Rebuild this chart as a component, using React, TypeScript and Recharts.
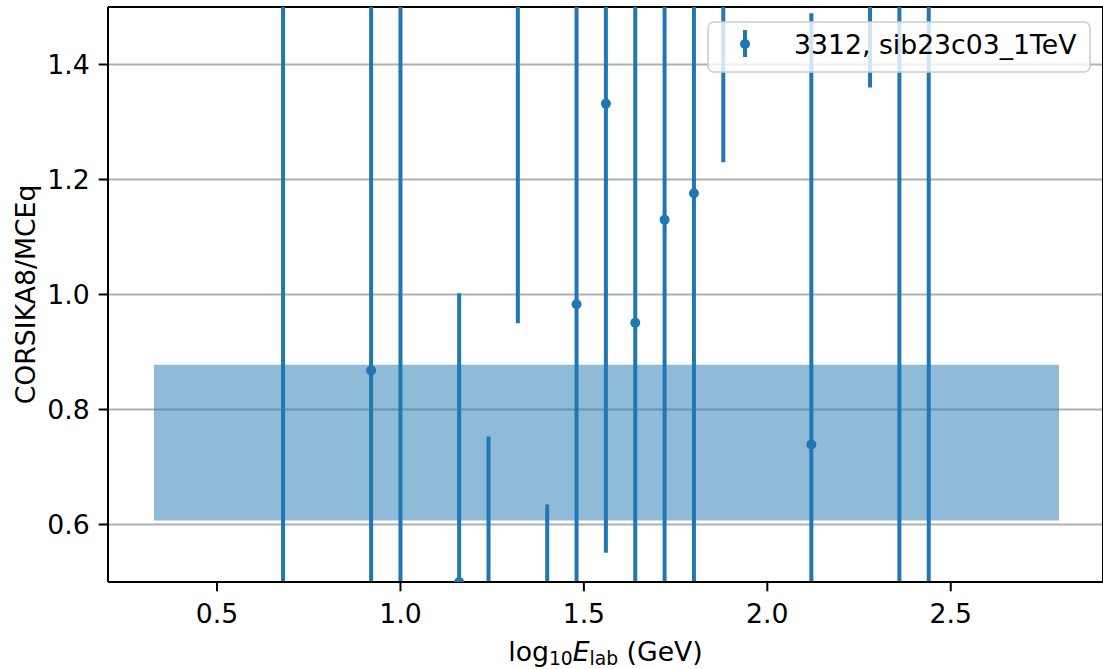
import React from 'react'
import {
  ComposedChart,
  Scatter,
  ErrorBar,
  XAxis,
  YAxis,
  CartesianGrid,
  ReferenceArea,
  ReferenceLine,
} from 'recharts'

// bin centres, log10(E_lab / GeV)
const LOG_E = [0.68, 0.92, 1.0, 1.16, 1.24, 1.32, 1.4, 1.48, 1.56, 1.64, 1.72, 1.8, 1.88, 2.12, 2.28, 2.36, 2.44]
// CORSIKA8 / MCEq ratio (several sit outside the visible range)
const RATIO = [0.3, 0.868, 1.7, 0.5, 0.35, 1.8, 0.4, 0.983, 1.332, 0.951, 1.13, 1.176, 1.75, 0.739, 1.7, 1.8, 0.2]
const ERR_LOW = [0.5, 0.7, 1.5, 0.5, 0.4, 0.85, 0.235, 0.65, 0.781, 0.6, 0.7, 0.75, 0.52, 0.75, 0.34, 1.5, 1.5]
const ERR_HIGH = [1.5, 0.7, 1.5, 0.502, 0.403, 0.85, 0.235, 0.65, 0.781, 0.6, 0.7, 0.75, 0.52, 0.75, 0.34, 1.5, 1.5]

const BAND_X = [0.328, 2.795]
const BAND_Y = [0.607, 0.878]

const X_TICKS = [0.5, 1.0, 1.5, 2.0, 2.5]
const Y_TICKS = [0.6, 0.8, 1.0, 1.2, 1.4]
const X_DOMAIN = [0.2028, 2.915]
const Y_DOMAIN = [0.5, 1.5]

const SERIES_NAME = '3312, sib23c03_1TeV'

const BLUE = '#1f77b4'
const FONT = '"DejaVu Sans", sans-serif'
const FS = 26.7

// error bars don't get clipped by recharts, so trim them to the visible y range
const data = LOG_E.map((x, i) => {
  const y = RATIO[i]
  const lo = Math.max(y - ERR_LOW[i], Y_DOMAIN[0])
  const hi = Math.min(y + ERR_HIGH[i], Y_DOMAIN[1])
  return { x, y, err: [y - lo, hi - y] }
})

const Dot = (p: any) => <circle cx={p.cx} cy={p.cy} r={5} fill={BLUE} />

const XLabel = ({ viewBox }: any) => {
  const cx = viewBox.x + viewBox.width / 2
  const y = viewBox.y + 79
  return (
    <text x={cx} y={y} textAnchor="middle" fontFamily={FONT} fontSize={FS} fill="#000">
      log
      <tspan fontSize={18.7} dy={4}>10</tspan>
      <tspan fontStyle="italic" dy={-4}>E</tspan>
      <tspan fontSize={18.7} dy={4}>lab</tspan>
      <tspan dy={-4}> (GeV)</tspan>
    </text>
  )
}

const YLabel = ({ viewBox }: any) => {
  const cy = viewBox.y + viewBox.height / 2
  const x = 35
  return (
    <text
      x={x}
      y={cy}
      transform={`rotate(-90, ${x}, ${cy})`}
      textAnchor="middle"
      fontFamily={FONT}
      fontSize={FS}
      fill="#000"
    >
      CORSIKA8/MCEq
    </text>
  )
}

const LegendBox = () => (
  <svg width={384} height={52} style={{ display: 'block' }}>
    <rect x={1} y={1} width={382} height={50} rx={6} ry={6} fill="rgba(255,255,255,0.8)" stroke="#cccccc" strokeWidth={1.5} />
    <line x1={38} x2={38} y1={9} y2={36} stroke={BLUE} strokeWidth={4} />
    <circle cx={38} cy={23} r={5} fill={BLUE} />
    <text x={87} y={33} fontFamily={FONT} fontSize={FS} fill="#000">
      {SERIES_NAME}
    </text>
  </svg>
)

export default function App() {
  return (
    <div style={{ position: 'absolute', left: 0, top: 0, width: 1103, height: 669, background: '#fff' }}>
      <ComposedChart width={1103} height={669} data={data} margin={{ top: 7, right: 0, bottom: 0, left: 0 }}>
        <ReferenceArea
          x1={BAND_X[0]}
          x2={BAND_X[1]}
          y1={BAND_Y[0]}
          y2={BAND_Y[1]}
          fill={BLUE}
          fillOpacity={0.5}
          stroke="none"
        />
        <CartesianGrid vertical={false} stroke="#b0b0b0" strokeWidth={2} />
        <XAxis
          dataKey="x"
          type="number"
          domain={X_DOMAIN}
          allowDataOverflow
          ticks={X_TICKS}
          tickFormatter={(v) => v.toFixed(1)}
          height={87}
          tickSize={9.3}
          tickMargin={12.7}
          tick={{ fill: '#000', fontSize: FS, fontFamily: FONT }}
          tickLine={{ stroke: '#000', strokeWidth: 2 }}
          axisLine={{ stroke: '#000', strokeWidth: 2 }}
          label={<XLabel />}
        />
        <YAxis
          type="number"
          domain={Y_DOMAIN}
          allowDataOverflow
          ticks={Y_TICKS}
          tickFormatter={(v) => v.toFixed(1)}
          width={108}
          tickSize={9.3}
          tickMargin={9}
          tick={{ fill: '#000', fontSize: FS, fontFamily: FONT }}
          tickLine={{ stroke: '#000', strokeWidth: 2 }}
          axisLine={{ stroke: '#000', strokeWidth: 2 }}
          label={<YLabel />}
        />
        <ReferenceLine y={Y_DOMAIN[1]} stroke="#000" strokeWidth={2} />
        <ReferenceLine x={X_DOMAIN[1]} stroke="#000" strokeWidth={2} />
        <Scatter name={SERIES_NAME} dataKey="y" fill={BLUE} shape={<Dot />} isAnimationActive={false}>
          <ErrorBar dataKey="err" direction="y" width={0} stroke={BLUE} strokeWidth={4} isAnimationActive={false} />
        </Scatter>
      </ComposedChart>
      <div style={{ position: 'absolute', left: 707, top: 21 }}>
        <LegendBox />
      </div>
    </div>
  )
}
